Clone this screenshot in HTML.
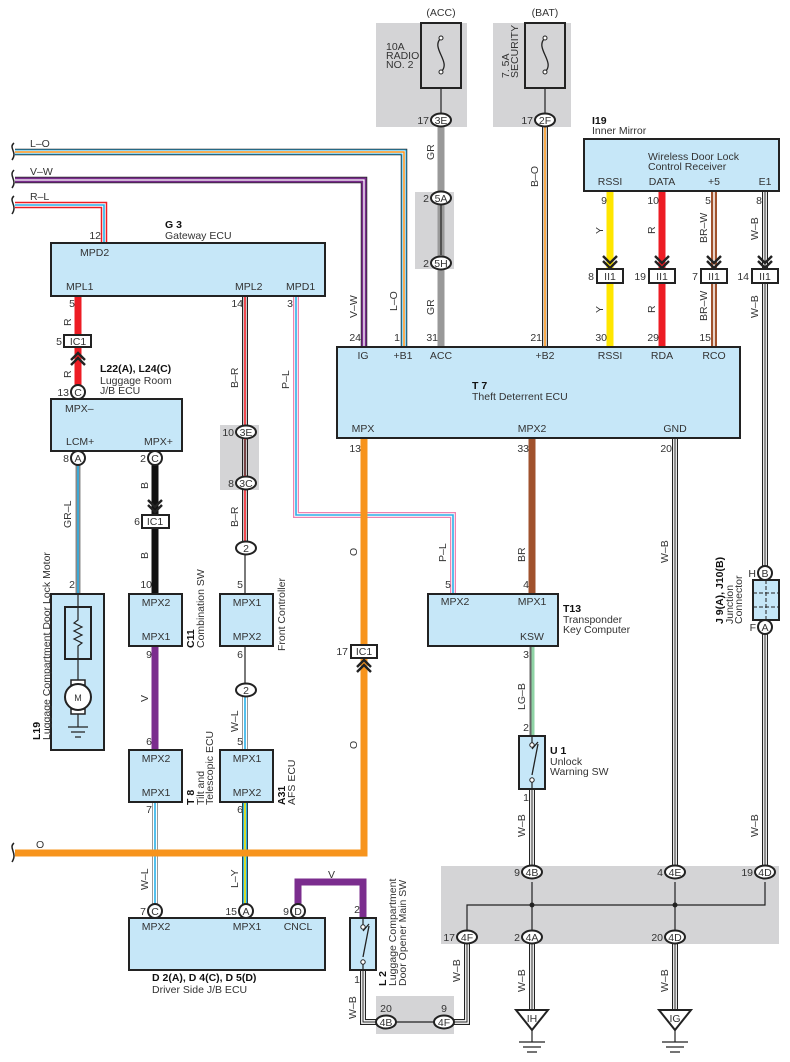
<!DOCTYPE html>
<html><head><meta charset="utf-8"><style>
body{margin:0;background:#fff}
svg{display:block}
path,line,polyline{fill:none}
text{font-family:"Liberation Sans",sans-serif;font-size:10.5px;fill:#333}
.b{font-weight:bold;fill:#111}
.bx{fill:#c6e7f8;stroke:#222;stroke-width:2}
.g{fill:#d4d4d6}
.c{fill:#fff;stroke:#222;stroke-width:2}
.m{text-anchor:middle}
.e{text-anchor:end}
.ch{stroke:#222;stroke-width:2.4;fill:none}
</style></head><body>
<svg width="790" height="1062" viewBox="0 0 790 1062" xmlns="http://www.w3.org/2000/svg">
<rect class="g" x="376" y="23" width="91" height="104"/>
<rect class="g" x="493" y="23" width="78" height="104"/>
<rect class="g" x="415" y="192" width="39" height="77"/>
<rect class="g" x="220" y="425" width="39" height="65"/>
<rect class="g" x="441" y="866" width="338" height="78"/>
<rect class="g" x="376" y="996" width="78" height="38"/>

<g stroke-linejoin="miter">
<path d="M15 152 H404 V347" stroke="#222" stroke-width="6.5"/><path d="M15 152 H404 V347" stroke="#2ab0e8" stroke-width="5"/><path d="M15 152 H404 V347" stroke="#fff" stroke-width="3"/><path d="M15 152 H404 V347" stroke="#f7941d" stroke-width="1.5"/>
<path d="M15 180 H364 V347" stroke="#222" stroke-width="6.5"/><path d="M15 180 H364 V347" stroke="#7b2d8e" stroke-width="5"/><path d="M15 180 H364 V347" stroke="#fff" stroke-width="1.3"/>
<path d="M15 205 H104 V243" stroke="#ed1c24" stroke-width="6.5"/><path d="M15 205 H104 V243" stroke="#fff" stroke-width="3.5"/><path d="M15 205 H104 V243" stroke="#2ab0e8" stroke-width="1.6"/>
<path d="M78 296 V385" stroke="#ed1c24" stroke-width="7"/>
<path d="M78 465 V594" stroke="#888" stroke-width="5"/><path d="M78 465 V594" stroke="#2ab0e8" stroke-width="1.6"/>
<path d="M155 465 V594" stroke="#111" stroke-width="7"/>
<path d="M155 646 V750" stroke="#7b2d8e" stroke-width="7"/>
<path d="M155 802 V904" stroke="#999" stroke-width="6"/><path d="M155 802 V904" stroke="#fff" stroke-width="4"/><path d="M155 802 V904" stroke="#2ab0e8" stroke-width="1.6"/>
<path d="M245 296 V541" stroke="#222" stroke-width="6"/><path d="M245 296 V541" stroke="#fff" stroke-width="3.5"/><path d="M245 296 V541" stroke="#ed1c24" stroke-width="1.6"/>
<path d="M245 555 V594 M245 646 V683" stroke="#222" stroke-width="1.2"/>
<path d="M245 697 V750" stroke="#999" stroke-width="6"/><path d="M245 697 V750" stroke="#fff" stroke-width="4"/><path d="M245 697 V750" stroke="#2ab0e8" stroke-width="1.6"/>
<path d="M245 802 V904" stroke="#222" stroke-width="6"/><path d="M245 802 V904" stroke="#2ab0e8" stroke-width="4.5"/><path d="M245 802 V904" stroke="#ffe600" stroke-width="1.6"/>
<path d="M296 296 V515 H453 V594" stroke="#ee82b0" stroke-width="6"/><path d="M296 296 V515 H453 V594" stroke="#fff" stroke-width="3.5"/><path d="M296 296 V515 H453 V594" stroke="#2ab0e8" stroke-width="1.6"/>
<path d="M15 853 H364 V438" stroke="#f7941d" stroke-width="7"/>
<path d="M441 127 V347" stroke="#999" stroke-width="7"/>
<path d="M545 127 V347" stroke="#222" stroke-width="6"/><path d="M545 127 V347" stroke="#fff" stroke-width="3.5"/><path d="M545 127 V347" stroke="#f7941d" stroke-width="1.6"/>
<path d="M610 191 V347" stroke="#ffe600" stroke-width="7"/>
<path d="M662 191 V347" stroke="#ed1c24" stroke-width="7"/>
<path d="M714 191 V347" stroke="#a0522d" stroke-width="6"/><path d="M714 191 V347" stroke="#fff" stroke-width="1.5"/>
<path d="M765 191 V866 M675 438 V866 M532 789 V866 M532 944 V1010 M675 944 V1010 M467 944 V1022 H454 M363 970 V1022 H376" stroke="#222" stroke-width="6"/>
<path d="M765 191 V866 M675 438 V866 M532 789 V866 M532 944 V1010 M675 944 V1010 M467 944 V1022 H454 M363 970 V1022 H376" stroke="#fff" stroke-width="3.8"/>
<path d="M765 191 V866 M675 438 V866 M532 789 V866 M532 944 V1010 M675 944 V1010 M467 944 V1022 H454 M363 970 V1022 H376" stroke="#222" stroke-width="1"/>
<path d="M532 438 V594" stroke="#a0522d" stroke-width="7"/>
<path d="M532 646 V736" stroke="#666" stroke-width="5"/><path d="M533 646 V736" stroke="#8fd3a5" stroke-width="3"/>
<path d="M298 904 V882 H363 V918" stroke="#7b2d8e" stroke-width="7"/>
<path d="M467 930 V905 H765 V882 M532 882 V930 M675 882 V930 M441 88 V115 M545 88 V115 M441 205 V255" stroke="#222" stroke-width="1.2"/>
<path d="M245 440 V475 M395 1022 H435" stroke="#222" stroke-width="1.2"/>
</g>
<circle cx="532" cy="905" r="2.5" fill="#222"/><circle cx="675" cy="905" r="2.5" fill="#222"/>

<!-- chevrons (double) -->
<path class="ch" d="M71 360 L78 353 L85 360 M71 365 L78 358 L85 365"/>
<path class="ch" d="M148 500 L155 507 L162 500 M148 505 L155 512 L162 505"/>
<path class="ch" d="M357 667 L364 660 L371 667 M357 672 L364 665 L371 672"/>
<path class="ch" d="M603 256 L610 263 L617 256 M603 261 L610 268 L617 261"/>
<path class="ch" d="M655 256 L662 263 L669 256 M655 261 L662 268 L669 261"/>
<path class="ch" d="M707 256 L714 263 L721 256 M707 261 L714 268 L721 261"/>
<path class="ch" d="M758 256 L765 263 L772 256 M758 261 L765 268 L772 261"/>

<!-- notched arrowheads -->
<g fill="#222">
<path d="M436 104 L441 108 L446 104 L441 113Z"/>
<path d="M540 104 L545 108 L550 104 L545 113Z"/>
<path d="M436 215 L441 211 L446 215 L441 205Z"/>
<path d="M436 245 L441 249 L446 245 L441 255Z"/>
<path d="M240 449 L245 445 L250 449 L245 439Z"/>
<path d="M240 467 L245 471 L250 467 L245 477Z"/>
<path d="M240 564 L245 560 L250 564 L245 554Z"/>
<path d="M240 674 L245 678 L250 674 L245 684Z"/>
<path d="M527 891 L532 887 L537 891 L532 880Z"/>
<path d="M670 891 L675 887 L680 891 L675 880Z"/>
<path d="M760 891 L765 887 L770 891 L765 880Z"/>
<path d="M462 920 L467 924 L472 920 L467 931Z"/>
<path d="M527 920 L532 924 L537 920 L532 931Z"/>
<path d="M670 920 L675 924 L680 920 L675 931Z"/>
<path d="M406 1017 L402 1022 L406 1027 L396 1022Z"/>
<path d="M424 1017 L428 1022 L424 1027 L434 1022Z"/>
</g>

<rect x="421" y="23" width="40" height="65" fill="none" stroke="#222" stroke-width="2"/>
<rect x="525" y="23" width="40" height="65" fill="none" stroke="#222" stroke-width="2"/>
<path d="M441 38 C430 48,452 62,441 72 M545 38 C534 48,556 62,545 72" stroke="#222" stroke-width="1.3"/>
<circle cx="441" cy="38" r="2" fill="#fff" stroke="#222"/><circle cx="441" cy="72" r="2" fill="#fff" stroke="#222"/>
<circle cx="545" cy="38" r="2" fill="#fff" stroke="#222"/><circle cx="545" cy="72" r="2" fill="#fff" stroke="#222"/>

<rect class="bx" x="51" y="243" width="274" height="53"/>
<rect class="bx" x="51" y="399" width="131" height="52"/>
<rect class="bx" x="51" y="594" width="53" height="156"/>
<rect class="bx" x="129" y="594" width="53" height="52"/>
<rect class="bx" x="129" y="750" width="53" height="52"/>
<rect class="bx" x="220" y="594" width="53" height="52"/>
<rect class="bx" x="220" y="750" width="53" height="52"/>
<rect class="bx" x="129" y="918" width="196" height="52"/>
<rect class="bx" x="337" y="347" width="403" height="91"/>
<rect class="bx" x="584" y="139" width="195" height="52"/>
<rect class="bx" x="428" y="594" width="130" height="52"/>
<rect class="bx" x="519" y="736" width="26" height="53"/>
<rect class="bx" x="350" y="918" width="26" height="52"/>
<rect class="bx" x="753" y="580" width="26" height="40"/>
<path d="M766 580 V620 M753 593 H779 M753 607 H779" stroke="#222" stroke-width="1" stroke-dasharray="4 2"/>

<rect x="65" y="607" width="26" height="52" fill="none" stroke="#222" stroke-width="2"/>
<path d="M78 594 V620 L74 623 L82 627 L74 631 L82 635 L74 639 L82 643 L78 646 V684 M78 710 V727 M68 727 H88 M71 732 H85 M75 737 H81" stroke="#222" stroke-width="1.2"/>
<rect x="71" y="680" width="14" height="5" fill="#fff" stroke="#222" stroke-width="1.5"/>
<rect x="71" y="709" width="14" height="5" fill="#fff" stroke="#222" stroke-width="1.5"/>
<circle cx="78" cy="697" r="13" fill="#fff" stroke="#222" stroke-width="2"/>
<text x="78" y="701" class="m" style="font-size:9px">M</text>

<path d="M532 749 L538 742 M532 775 L538 744 M363 931 L369 924 M363 957 L369 926" stroke="#222" stroke-width="1.3"/>
<circle cx="532" cy="745" r="2.2" fill="#fff" stroke="#222"/><circle cx="532" cy="780" r="2.2" fill="#fff" stroke="#222"/>
<circle cx="363" cy="927" r="2.2" fill="#fff" stroke="#222"/><circle cx="363" cy="962" r="2.2" fill="#fff" stroke="#222"/>
<path d="M532 736 V743 M532 782 V789 M363 918 V925 M363 964 V970" stroke="#222" stroke-width="1.2"/>

<path d="M516 1010 H548 L532 1030Z M659 1010 H691 L675 1030Z" fill="#fff" stroke="#222" stroke-width="2"/>
<path d="M532 1030 V1042 M519 1042 H545 M523 1047 H541 M527 1052 H537 M675 1030 V1042 M662 1042 H688 M666 1047 H684 M670 1052 H680" stroke="#222" stroke-width="1.2"/>
<text x="532" y="1022" class="m">IH</text><text x="675" y="1022" class="m">IG</text>

<rect class="c" x="64" y="335" width="27" height="12"/><text x="78" y="345" class="m">IC1</text>
<rect class="c" x="142" y="515" width="27" height="13"/><text x="155" y="525" class="m">IC1</text>
<rect class="c" x="351" y="645" width="26" height="13"/><text x="364" y="655" class="m">IC1</text>
<rect class="c" x="597" y="269" width="26" height="14"/><text x="610" y="280" class="m">II1</text>
<rect class="c" x="649" y="269" width="26" height="14"/><text x="662" y="280" class="m">II1</text>
<rect class="c" x="701" y="269" width="26" height="14"/><text x="714" y="280" class="m">II1</text>
<rect class="c" x="752" y="269" width="26" height="14"/><text x="765" y="280" class="m">II1</text>

<circle class="c" cx="78" cy="392" r="7"/><text x="78" y="396" class="m">C</text>
<circle class="c" cx="78" cy="458" r="7"/><text x="78" y="462" class="m">A</text>
<circle class="c" cx="155" cy="458" r="7"/><text x="155" y="462" class="m">C</text>
<circle class="c" cx="155" cy="911" r="7"/><text x="155" y="915" class="m">C</text>
<circle class="c" cx="246" cy="911" r="7"/><text x="246" y="915" class="m">A</text>
<circle class="c" cx="298" cy="911" r="7"/><text x="298" y="915" class="m">D</text>
<circle class="c" cx="765" cy="573" r="7"/><text x="765" y="577" class="m">B</text>
<circle class="c" cx="765" cy="627" r="7"/><text x="765" y="631" class="m">A</text>

<ellipse class="c" cx="441" cy="120" rx="10" ry="6.5"/><text x="441" y="124" class="m">3E</text>
<ellipse class="c" cx="545" cy="120" rx="10" ry="6.5"/><text x="545" y="124" class="m">2F</text>
<ellipse class="c" cx="441" cy="198" rx="10" ry="6.5"/><text x="441" y="202" class="m">5A</text>
<ellipse class="c" cx="441" cy="263" rx="10" ry="6.5"/><text x="441" y="267" class="m">5H</text>
<ellipse class="c" cx="246" cy="432" rx="10" ry="6.5"/><text x="246" y="436" class="m">3E</text>
<ellipse class="c" cx="246" cy="483" rx="10" ry="6.5"/><text x="246" y="487" class="m">3C</text>
<ellipse class="c" cx="246" cy="548" rx="10" ry="6.5"/><text x="246" y="552" class="m">2</text>
<ellipse class="c" cx="246" cy="690" rx="10" ry="6.5"/><text x="246" y="694" class="m">2</text>
<ellipse class="c" cx="532" cy="872" rx="10" ry="6.5"/><text x="532" y="876" class="m">4B</text>
<ellipse class="c" cx="675" cy="872" rx="10" ry="6.5"/><text x="675" y="876" class="m">4E</text>
<ellipse class="c" cx="765" cy="872" rx="10" ry="6.5"/><text x="765" y="876" class="m">4D</text>
<ellipse class="c" cx="467" cy="937" rx="10" ry="6.5"/><text x="467" y="941" class="m">4F</text>
<ellipse class="c" cx="532" cy="937" rx="10" ry="6.5"/><text x="532" y="941" class="m">4A</text>
<ellipse class="c" cx="675" cy="937" rx="10" ry="6.5"/><text x="675" y="941" class="m">4D</text>
<ellipse class="c" cx="386" cy="1022" rx="10" ry="6.5"/><text x="386" y="1026" class="m">4B</text>
<ellipse class="c" cx="444" cy="1022" rx="10" ry="6.5"/><text x="444" y="1026" class="m">4F</text>

<path d="M14 143 C8 148,18 152,12 160 M14 170 C8 176,18 180,12 188 M14 196 C8 201,18 205,12 214 M14 843 C8 848,18 853,12 862" stroke="#222" stroke-width="1.5"/>

<text x="30" y="147">L–O</text><text x="30" y="175">V–W</text><text x="30" y="200">R–L</text><text x="36" y="848">O</text>
<text x="328" y="878">V</text>
<g style="font-size:10px">
<text transform="translate(71,326) rotate(-90)">R</text>
<text transform="translate(71,378) rotate(-90)">R</text>
<text transform="translate(71,528) rotate(-90)">GR–L</text>
<text transform="translate(148,489) rotate(-90)">B</text>
<text transform="translate(148,559) rotate(-90)">B</text>
<text transform="translate(148,702) rotate(-90)">V</text>
<text transform="translate(148,890) rotate(-90)">W–L</text>
<text transform="translate(238,388) rotate(-90)">B–R</text>
<text transform="translate(238,527) rotate(-90)">B–R</text>
<text transform="translate(238,732) rotate(-90)">W–L</text>
<text transform="translate(238,888) rotate(-90)">L–Y</text>
<text transform="translate(289,389) rotate(-90)">P–L</text>
<text transform="translate(357,556) rotate(-90)">O</text>
<text transform="translate(357,749) rotate(-90)">O</text>
<text transform="translate(357,318) rotate(-90)">V–W</text>
<text transform="translate(397,311) rotate(-90)">L–O</text>
<text transform="translate(434,160) rotate(-90)">GR</text>
<text transform="translate(434,315) rotate(-90)">GR</text>
<text transform="translate(538,187) rotate(-90)">B–O</text>
<text transform="translate(603,234) rotate(-90)">Y</text>
<text transform="translate(603,313) rotate(-90)">Y</text>
<text transform="translate(655,234) rotate(-90)">R</text>
<text transform="translate(655,313) rotate(-90)">R</text>
<text transform="translate(707,243) rotate(-90)">BR–W</text>
<text transform="translate(707,321) rotate(-90)">BR–W</text>
<text transform="translate(758,240) rotate(-90)">W–B</text>
<text transform="translate(758,318) rotate(-90)">W–B</text>
<text transform="translate(758,837) rotate(-90)">W–B</text>
<text transform="translate(668,563) rotate(-90)">W–B</text>
<text transform="translate(525,837) rotate(-90)">W–B</text>
<text transform="translate(525,992) rotate(-90)">W–B</text>
<text transform="translate(668,992) rotate(-90)">W–B</text>
<text transform="translate(460,982) rotate(-90)">W–B</text>
<text transform="translate(356,1019) rotate(-90)">W–B</text>
<text transform="translate(525,710) rotate(-90)">LG–B</text>
<text transform="translate(446,562) rotate(-90)">P–L</text>
<text transform="translate(525,562) rotate(-90)">BR</text>
</g>

<text x="101" y="239" class="e">12</text><text x="75" y="307" class="e">5</text><text x="62" y="345" class="e">5</text>
<text x="69" y="396" class="e">13</text><text x="69" y="462" class="e">8</text><text x="146" y="462" class="e">2</text>
<text x="75" y="588" class="e">2</text><text x="140" y="525" class="e">6</text><text x="152" y="588" class="e">10</text>
<text x="152" y="658" class="e">9</text><text x="152" y="745" class="e">6</text><text x="152" y="813" class="e">7</text>
<text x="243" y="307" class="e">14</text><text x="293" y="307" class="e">3</text>
<text x="234" y="436" class="e">10</text><text x="234" y="487" class="e">8</text>
<text x="243" y="588" class="e">5</text><text x="243" y="658" class="e">6</text><text x="243" y="745" class="e">5</text><text x="243" y="813" class="e">6</text>
<text x="146" y="915" class="e">7</text><text x="237" y="915" class="e">15</text><text x="289" y="915" class="e">9</text>
<text x="360" y="913" class="e">2</text><text x="360" y="983" class="e">1</text>
<text x="348" y="655" class="e">17</text>
<text x="361" y="341" class="e">24</text><text x="400" y="341" class="e">1</text><text x="438" y="341" class="e">31</text>
<text x="542" y="341" class="e">21</text><text x="607" y="341" class="e">30</text><text x="659" y="341" class="e">29</text><text x="711" y="341" class="e">15</text>
<text x="361" y="452" class="e">13</text><text x="529" y="452" class="e">33</text><text x="672" y="452" class="e">20</text>
<text x="429" y="124" class="e">17</text><text x="533" y="124" class="e">17</text>
<text x="429" y="202" class="e">2</text><text x="429" y="267" class="e">2</text>
<text x="607" y="204" class="e">9</text><text x="659" y="204" class="e">10</text><text x="711" y="204" class="e">5</text><text x="762" y="204" class="e">8</text>
<text x="594" y="280" class="e">8</text><text x="646" y="280" class="e">19</text><text x="698" y="280" class="e">7</text><text x="749" y="280" class="e">14</text>
<text x="451" y="588" class="e">5</text><text x="529" y="588" class="e">4</text><text x="529" y="658" class="e">3</text><text x="529" y="731" class="e">2</text><text x="529" y="801" class="e">1</text>
<text x="756" y="577" class="e">H</text><text x="756" y="631" class="e">F</text>
<text x="520" y="876" class="e">9</text><text x="663" y="876" class="e">4</text><text x="753" y="876" class="e">19</text>
<text x="455" y="941" class="e">17</text><text x="520" y="941" class="e">2</text><text x="663" y="941" class="e">20</text>
<text x="386" y="1012" class="m">20</text><text x="444" y="1012" class="m">9</text>

<text x="80" y="256">MPD2</text><text x="66" y="290">MPL1</text><text x="235" y="290">MPL2</text><text x="286" y="290">MPD1</text>
<text x="65" y="412">MPX–</text><text x="66" y="445">LCM+</text><text x="144" y="445">MPX+</text>
<text x="156" y="606" class="m">MPX2</text><text x="156" y="640" class="m">MPX1</text>
<text x="156" y="762" class="m">MPX2</text><text x="156" y="796" class="m">MPX1</text>
<text x="247" y="606" class="m">MPX1</text><text x="247" y="640" class="m">MPX2</text>
<text x="247" y="762" class="m">MPX1</text><text x="247" y="796" class="m">MPX2</text>
<text x="156" y="930" class="m">MPX2</text><text x="247" y="930" class="m">MPX1</text><text x="298" y="930" class="m">CNCL</text>
<text x="363" y="359" class="m">IG</text><text x="403" y="359" class="m">+B1</text><text x="441" y="359" class="m">ACC</text><text x="545" y="359" class="m">+B2</text>
<text x="610" y="359" class="m">RSSI</text><text x="662" y="359" class="m">RDA</text><text x="714" y="359" class="m">RCO</text>
<text x="363" y="432" class="m">MPX</text><text x="532" y="432" class="m">MPX2</text><text x="675" y="432" class="m">GND</text>
<text x="472" y="389" class="b">T 7</text><text x="472" y="400">Theft Deterrent ECU</text>
<text x="648" y="160">Wireless Door Lock</text><text x="648" y="170">Control Receiver</text>
<text x="610" y="185" class="m">RSSI</text><text x="662" y="185" class="m">DATA</text><text x="714" y="185" class="m">+5</text><text x="765" y="185" class="m">E1</text>
<text x="455" y="605" class="m">MPX2</text><text x="532" y="605" class="m">MPX1</text><text x="532" y="640" class="m">KSW</text>

<text x="165" y="228" class="b">G 3</text><text x="165" y="239">Gateway ECU</text>
<text x="100" y="372" class="b">L22(A), L24(C)</text><text x="100" y="384">Luggage Room</text><text x="100" y="394">J/B ECU</text>
<text x="152" y="981" class="b">D 2(A), D 4(C), D 5(D)</text><text x="152" y="993">Driver Side J/B ECU</text>
<text x="592" y="124" class="b">I19</text><text x="592" y="134">Inner Mirror</text>
<text x="563" y="612" class="b">T13</text><text x="563" y="623">Transponder</text><text x="563" y="633">Key Computer</text>
<text x="550" y="754" class="b">U 1</text><text x="550" y="765">Unlock</text><text x="550" y="775">Warning SW</text>
<text x="441" y="16" class="m">(ACC)</text><text x="545" y="16" class="m">(BAT)</text>
<text x="386" y="50">10A</text><text x="386" y="59">RADIO</text><text x="386" y="68">NO. 2</text>
<text transform="translate(509,78) rotate(-90)">7. 5A</text><text transform="translate(518,78) rotate(-90)">SECURITY</text>
<text transform="translate(40,740) rotate(-90)" class="b">L19</text><text transform="translate(50,740) rotate(-90)">Luggage Compartment Door Lock Motor</text>
<text transform="translate(194,648) rotate(-90)" class="b">C11</text><text transform="translate(204,648) rotate(-90)">Combination SW</text>
<text transform="translate(285,651) rotate(-90)">Front Controller</text>
<text transform="translate(194,805) rotate(-90)" class="b">T 8</text><text transform="translate(204,805) rotate(-90)">Tilt and</text><text transform="translate(213,805) rotate(-90)">Telescopic ECU</text>
<text transform="translate(285,805) rotate(-90)" class="b">A31</text><text transform="translate(295,805) rotate(-90)">AFS ECU</text>
<text transform="translate(386,986) rotate(-90)" class="b">L 2</text><text transform="translate(396,986) rotate(-90)">Luggage Compartment</text><text transform="translate(406,986) rotate(-90)">Door Opener Main SW</text>
<text transform="translate(723,624) rotate(-90)" class="b">J 9(A), J10(B)</text><text transform="translate(733,624) rotate(-90)">Junction</text><text transform="translate(742,624) rotate(-90)">Connector</text>
</svg>
</body></html>
